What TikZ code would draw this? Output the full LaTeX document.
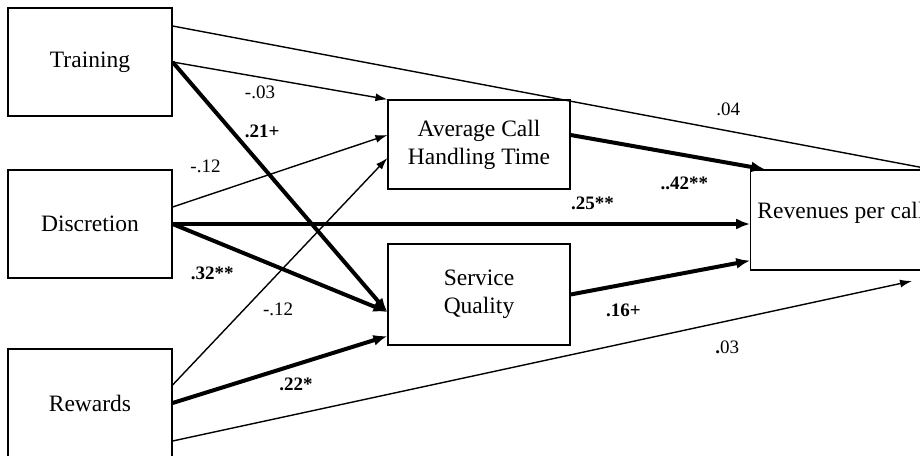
\documentclass[tikz,border=0pt]{standalone}
\usepackage{fontspec}
\setmainfont{Liberation Serif}
\usepackage{tikz}
\usetikzlibrary{
  arrows.meta,
  calc
}
\tikzset{
  box/.style={
    draw,
    line width=0.6pt,
    align=center,
    font=\fontsize{11.75}{14}\selectfont},
  eff/.style={
    -{Latex[length=6pt,width=4pt]},
    line width=0.7pt},
  strong/.style={
    -{Latex[length=7pt,width=5.5pt]},
    line width=2pt},
  coef/.style={
    inner sep=1pt,
    font=\fontsize{9.5}{11}\selectfont}
  }

\begin{document}
\begin{tikzpicture}[x=0.5pt,y=-0.5pt]
    \useasboundingbox (0,0) rectangle (920,455);
    \node[box, minimum width=82pt, minimum height=54pt] (train) at (90,62) {Training};
    \node[box, minimum width=82pt, minimum height=54pt] (discr) at (90,224) {Discretion};
    \node[box, minimum width=82pt, minimum height=54pt] (rew) at (90,403) {Rewards};
    \node[box, minimum width=91pt, minimum height=44.5pt] (aht) at (479,144.5) {Average Call\\Handling Time};
    \node[box, minimum width=91pt, minimum height=50.5pt] (sq) at (479,294.5) {Service\\Quality};
    \node[box, minimum width=90pt, minimum height=50pt, text depth=10pt] (rev) at (841,220) {Revenues per call};
    \coordinate (revlow) at (912,281);
    \path [eff]
    ($(train.east)+(0,-36)$) edge[] node[coef, pos=0.732, yshift=10.7pt] (c1) {.04} (rev.north east)
    (train.east) edge[] node[coef, pos=0.407, yshift=-7.75pt] (c2) {-.03} (aht.north west)
    ($(discr.east)+(0,-17)$) edge[] node[coef, pos=0.153, yshift=15pt] (c4) {-.12} ($(aht.west)+(0,-9.5)$)
    ($(rew.east)+(0,-18)$) edge[] node[coef, pos=0.491, yshift=-17.7pt] (c7) {-.12} ($(aht.west)+(0,13.5)$)
    ($(rew.east)+(0,38)$) edge[] node[coef, pos=0.75, yshift=-13pt] (c9) {\textbf{.}03} (revlow);
    \path [strong]
    (train.east) edge[] node[coef, pos=0.417, yshift=17.5pt] (c3) {\textbf{.21+}} ($(sq.west)+(0,17.5)$)
    (discr.east) edge[] node[coef, pos=0.727, yshift=10.5pt] (c5) {\textbf{.25**}} (discr.east -| rev.west)
    (discr.east) edge[] node[coef, pos=0.185, yshift=-16.3pt] (c6) {\textbf{.32**}} ($(sq.west)+(0,17.5)$)
    (rew.east) edge[] node[coef, pos=0.574, yshift=-9.75pt] (c8) {\textbf{.22*}} ($(sq.west)+(0,41.5)$)
    ($(aht.east)+(0,-9.5)$) edge[] node[coef, pos=0.585, yshift=-14.3pt] (c10) {\textbf{..42**}} ($(rev.north west)+(15,0)$)
    (sq.east) edge[] node[coef, pos=0.294, yshift=-12.8pt] (c11) {\textbf{.16+}} ($(rev.south west)+(0,-10)$);
  \end{tikzpicture}
\end{document}
